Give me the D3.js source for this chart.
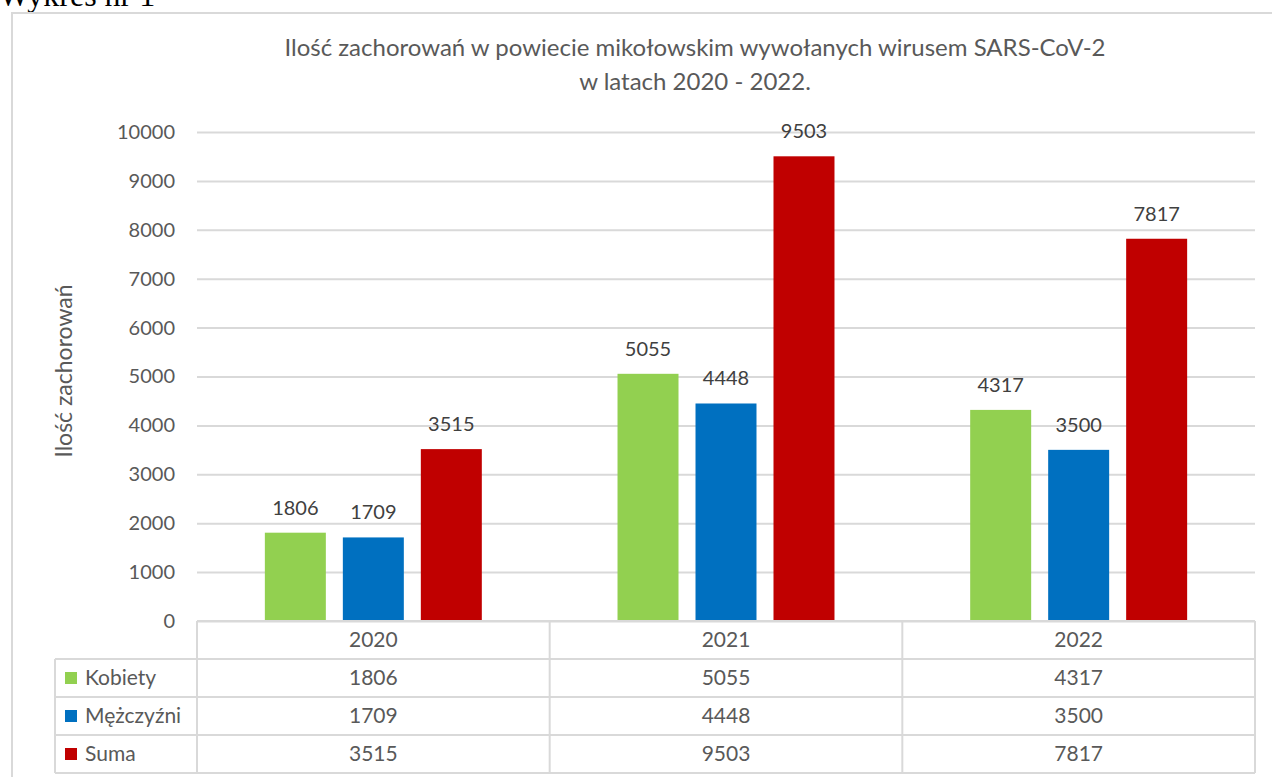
<!DOCTYPE html>
<html>
<head>
<meta charset="utf-8">
<script src="https://cdn.jsdelivr.net/npm/d3@7"></script>
<style>
  body { margin: 0; background: #fff; overflow: hidden; }
  svg { display: block; }
</style>
</head>
<body>
<div id="graph"></div>
<script>
'use strict';

let W = 1272;
let H = 777;
let FONT = 'Lato, "Open Sans", sans-serif';

let years = ['2020', '2021', '2022'];
let seriesNames = ['Kobiety', 'Mężczyźni', 'Suma'];
let kobiety = [1806, 5055, 4317];
let mezczyzni = [1709, 4448, 3500];
let suma = [3515, 9503, 7817];
let yTicks = [0, 1000, 2000, 3000, 4000, 5000, 6000, 7000, 8000, 9000, 10000];

let colors = {
    'Kobiety': '#92D050',
    'Mężczyźni': '#0070C0',
    'Suma': '#C00000',
};

let series = [
    { name: seriesNames[0], values: kobiety },
    { name: seriesNames[1], values: mezczyzni },
    { name: seriesNames[2], values: suma },
];

let PLOT = { left: 197, right: 1255, top: 132, bottom: 621 };
let ROW_H = 38;
let TABLE_LEFT = 55;

let svg = d3.select('#graph')
    .append('svg')
    .attr('width', W)
    .attr('height', H);

// caption above the chart box, cut by the top edge
svg.append('text')
    .attr('x', -1)
    .attr('y', 6)
    .style('font-family', '"Liberation Serif", "Times New Roman", serif')
    .style('font-size', '32px')
    .attr('fill', '#000')
    .text('Wykres nr 1');

// chart border
svg.append('rect')
    .attr('x', 12)
    .attr('y', 13)
    .attr('width', W + 20)
    .attr('height', H + 20)
    .attr('fill', 'none')
    .attr('stroke', '#d9d9d9')
    .attr('stroke-width', 2);

// title
let title = svg.append('text')
    .attr('text-anchor', 'middle')
    .style('font-family', FONT)
    .style('font-size', '24px')
    .attr('fill', '#595959');
title.append('tspan')
    .attr('x', 695)
    .attr('y', 56)
    .text('Ilość zachorowań w powiecie mikołowskim wywołanych wirusem SARS-CoV-2');
title.append('tspan')
    .attr('x', 695)
    .attr('y', 90)
    .text('w latach 2020 - 2022.');

let xScale = d3.scaleBand()
    .domain(years)
    .range([PLOT.left, PLOT.right]);

let inner = d3.scaleBand()
    .domain(seriesNames)
    .range([0, xScale.bandwidth()])
    .paddingInner(0.218)
    .paddingOuter(0.87);

let yScale = d3.scaleLinear()
    .domain([0, 10000])
    .range([PLOT.bottom, PLOT.top]);

// grid
let yAxis = d3.axisLeft(yScale)
    .tickValues(yTicks)
    .tickSize(-(PLOT.right - PLOT.left))
    .tickPadding(22)
    .tickFormat(d3.format('d'));

let gy = svg.append('g')
    .attr('transform', 'translate(' + PLOT.left + ',0)')
    .call(yAxis);
gy.select('.domain').remove();
gy.selectAll('line')
    .attr('stroke', '#d9d9d9')
    .attr('stroke-width', 2);
gy.selectAll('text')
    .style('font-family', FONT)
    .style('font-size', '20px')
    .attr('fill', '#595959');

// y axis title
svg.append('text')
    .attr('transform', 'translate(72,' + 371 + ') rotate(-90)')
    .attr('text-anchor', 'middle')
    .style('font-family', FONT)
    .style('font-size', '23px')
    .attr('fill', '#595959')
    .text('Ilość zachorowań');

// bars
let groups = svg.selectAll('.series')
    .data(series)
    .enter()
    .append('g')
    .attr('class', 'series');

groups.selectAll('rect')
    .data(s => s.values.map((v, i) => ({ name: s.name, year: years[i], value: v })))
    .enter()
    .append('rect')
    .attr('x', d => xScale(d.year) + inner(d.name))
    .attr('y', d => yScale(d.value))
    .attr('width', inner.bandwidth())
    .attr('height', d => yScale(0) - yScale(d.value))
    .attr('fill', d => colors[d.name]);

groups.selectAll('.label')
    .data(s => s.values.map((v, i) => ({ name: s.name, year: years[i], value: v })))
    .enter()
    .append('text')
    .attr('class', 'label')
    .attr('x', d => xScale(d.year) + inner(d.name) + inner.bandwidth() / 2)
    .attr('y', d => yScale(d.value) - 18)
    .attr('text-anchor', 'middle')
    .style('font-family', FONT)
    .style('font-size', '20px')
    .attr('fill', '#404040')
    .text(d => d.value);

// data table
let table = svg.append('g').attr('class', 'table');
let lineColor = '#d9d9d9';
let tTop = PLOT.bottom;
let tBottom = tTop + ROW_H * 4;

// horizontal lines
for (let r = 0; r <= 4; r++) {
    let y = tTop + r * ROW_H;
    table.append('line')
        .attr('x1', r === 0 ? PLOT.left : TABLE_LEFT)
        .attr('x2', PLOT.right)
        .attr('y1', y)
        .attr('y2', y)
        .attr('stroke', lineColor)
        .attr('stroke-width', 2);
}

// vertical lines
table.append('line')
    .attr('x1', TABLE_LEFT).attr('x2', TABLE_LEFT)
    .attr('y1', tTop + ROW_H).attr('y2', tBottom)
    .attr('stroke', lineColor).attr('stroke-width', 2);

years.forEach((y, i) => {
    let x = xScale(y);
    table.append('line')
        .attr('x1', x).attr('x2', x)
        .attr('y1', tTop).attr('y2', tBottom)
        .attr('stroke', lineColor).attr('stroke-width', 2);
});
table.append('line')
    .attr('x1', PLOT.right).attr('x2', PLOT.right)
    .attr('y1', tTop).attr('y2', tBottom)
    .attr('stroke', lineColor).attr('stroke-width', 2);

// header (years)
table.selectAll('.year')
    .data(years)
    .enter()
    .append('text')
    .attr('class', 'year')
    .attr('x', d => xScale(d) + xScale.bandwidth() / 2)
    .attr('y', tTop + ROW_H / 2)
    .attr('dy', '0.35em')
    .attr('text-anchor', 'middle')
    .style('font-family', FONT)
    .style('font-size', '21px')
    .attr('fill', '#595959')
    .text(d => d);

series.forEach((s, r) => {
    let cy = tTop + (r + 1) * ROW_H + ROW_H / 2;
    table.append('rect')
        .attr('x', 65)
        .attr('y', cy - 6)
        .attr('width', 12)
        .attr('height', 12)
        .attr('fill', colors[s.name]);
    table.append('text')
        .attr('x', 85)
        .attr('y', cy)
        .attr('dy', '0.35em')
        .style('font-family', FONT)
        .style('font-size', '21px')
        .attr('fill', '#595959')
        .text(s.name);
    table.selectAll('.v' + r)
        .data(s.values)
        .enter()
        .append('text')
        .attr('x', (d, i) => xScale(years[i]) + xScale.bandwidth() / 2)
        .attr('y', cy)
        .attr('dy', '0.35em')
        .attr('text-anchor', 'middle')
        .style('font-family', FONT)
        .style('font-size', '21px')
        .attr('fill', '#595959')
        .text(d => d);
});
</script>
</body>
</html>
